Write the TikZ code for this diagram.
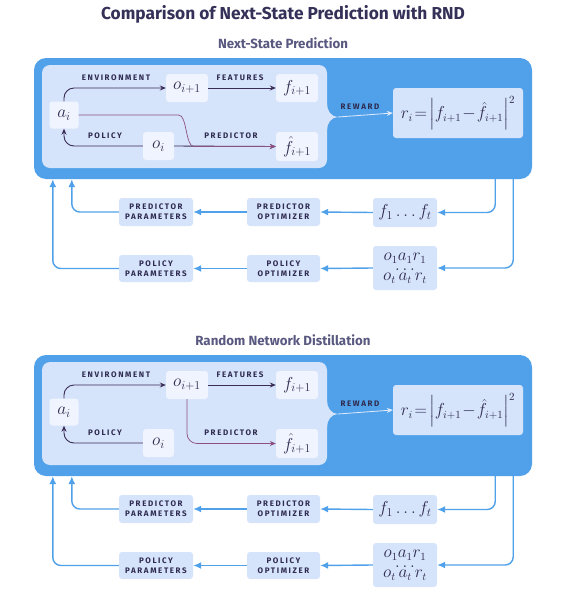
\documentclass[tikz,border=0pt]{standalone}
\usepackage[no-math]{fontspec}
\usepackage{amsmath}
\usepackage{tikz}
\usetikzlibrary{
    arrows.meta,
    calc
}
\newfontfamily\headfont{Fira Sans}
\newfontfamily\capfont[LetterSpace=20]{Fira Sans}
\definecolor{outerblue}{RGB}{80,161,233}
\definecolor{paleblue}{RGB}{213,227,251}
\definecolor{nodewhite}{RGB}{240,244,254}
\definecolor{inkpurple}{RGB}{58,44,86}
\definecolor{predpink}{RGB}{140,80,125}
\definecolor{navytext}{RGB}{47,43,80}
\definecolor{titlenavy}{RGB}{52,48,88}
\definecolor{subgray}{RGB}{88,88,128}
\definecolor{rewardline}{RGB}{225,234,252}
\newcommand{\tightlines}{\lineskiplimit=-20pt\relax}

\begin{document}
\begin{tikzpicture}[
    x=1pt, y=-1pt,
    panel/.style={rectangle, rounded corners=12pt, fill=outerblue, inner sep=0},
    core/.style={rectangle, rounded corners=8pt, fill=paleblue, inner sep=0},
    obsbox/.style={
        rectangle, rounded corners=3pt, fill=nodewhite, inner sep=0,
        minimum width=42pt, minimum height=28pt,
        text=navytext, font=\fontsize{17}{19}\selectfont
    },
    stagebox/.style={
        rectangle, rounded corners=3pt, fill=paleblue, inner sep=0,
        minimum width=74pt, minimum height=28pt, align=center,
        text=navytext, font=\capfont\bfseries\fontsize{8}{10}\selectfont
    },
    lbl/.style={text=navytext, inner sep=0, font=\capfont\bfseries\fontsize{8}{9}\selectfont},
    envarrow/.style={draw=inkpurple, line width=0.9pt, rounded corners=10pt, -{Stealth[length=6pt,width=5pt]}},
    predarrow/.style={draw=predpink, line width=0.7pt, rounded corners=10pt, -{Stealth[length=6pt,width=5pt]}},
    flowarrow/.style={draw=outerblue, line width=1.4pt, rounded corners=8pt, -{Latex[length=8pt,width=7pt]}}
]
\useasboundingbox (0,0) rectangle (565,592);

% Title
\node[font=\headfont\bfseries\fontsize{17.3}{20}\selectfont, text=titlenavy] (title) at (283,14) {Comparison of Next-State Prediction with RND};

% Both panels
\foreach \p/\dy/\ttl in {a/0/Next-State Prediction, b/297/Random Network Distillation} {
\begin{scope}[shift={(0,\dy)}]
    \node[font=\headfont\bfseries\fontsize{13.3}{15}\selectfont, text=subgray] (\p-sub) at (283,43) {\ttl};

    % Blue frame and inner region
    \node[panel, minimum width=498pt, minimum height=121pt] (\p-outer) at (283,118.5) {};
    \node[core, minimum width=285pt, minimum height=103pt] (\p-inner) at (184.5,116.5) {};
    \fill[paleblue] (327,104) to[out=-90,in=180] (338,117) to[out=180,in=90] (327,130) -- cycle;
    \coordinate (\p-rw) at (338,117);

    % Variables
    \node[obsbox, minimum width=29pt, minimum height=27pt] (\p-ai) at (64,115) {$a_i$};
    \node[obsbox] (\p-oip) at (187,88) {$o_{i+1}$};
    \node[obsbox] (\p-fnext) at (297,88) {$f_{i+1}$};
    \node[obsbox, minimum width=31pt] (\p-oi) at (158.5,146) {$o_i$};
    \node[obsbox, minimum height=29pt] (\p-fhat) at (297,146.5) {$\hat{f}_{i+1}$};
    \node[obsbox, fill=paleblue, minimum width=130pt, minimum height=50pt, font=\fontsize{16}{18}\selectfont] (\p-rbox) at (458,113)
        {$r_i\!=\!\left|f_{i+1}\!-\!\hat{f}_{i+1}\right|^2$};

    % Labels
    \node[lbl] (\p-envl) at (116,78) {ENVIRONMENT};
    \node[lbl] (\p-featl) at (240,78) {FEATURES};
    \node[lbl] (\p-poll) at (105,136) {POLICY};
    \node[lbl] (\p-predl) at (231,136) {PREDICTOR};
    \node[lbl] (\p-rewl) at (360,107) {REWARD};

    % Inner arrows
    \draw[envarrow] (\p-ai.north) |- (\p-oip.west);
    \draw[envarrow] (\p-oip.east) -- (\p-fnext.west);
    \draw[envarrow] (\p-oi.west) -| (\p-ai.south);
    \draw[draw=rewardline, line width=0.8pt, -{Stealth[length=6pt,width=5pt]}] (\p-rw) -- (\p-rbox.west);

    % Training loop
    \node[stagebox] (\p-ppar) at (156,212) {PREDICTOR\\PARAMETERS};
    \node[stagebox, minimum width=73pt] (\p-popt) at (283.5,212) {PREDICTOR\\OPTIMIZER};
    \node[obsbox, fill=paleblue, minimum width=64pt, minimum height=29pt] (\p-fseq) at (405,212.5) {$f_1\ldots f_t$};
    \node[stagebox, minimum height=27pt] (\p-polpar) at (156,268.5) {POLICY\\PARAMETERS};
    \node[stagebox, minimum width=73pt, minimum height=27pt] (\p-poopt) at (283.5,268.5) {POLICY\\OPTIMIZER};
    \node[obsbox, fill=paleblue, minimum width=64pt, minimum height=44pt, align=center,
          font=\fontsize{16}{10}\selectfont\tightlines] (\p-traj) at (405,268)
        {$o_1a_1r_1$\\$\ldots$\\$o_t\,a_t\,r_t$};

    \draw[flowarrow] ($(\p-outer.south east)+(-37,0)$) |- (\p-fseq.east);
    \draw[flowarrow] ($(\p-outer.south east)+(-19,0)$) |- (\p-traj.east);
    \draw[flowarrow] (\p-fseq.west) -- (\p-popt.east);
    \draw[flowarrow] (\p-popt.west) -- (\p-ppar.east);
    \draw[flowarrow] (\p-traj.west) -- (\p-poopt.east);
    \draw[flowarrow] (\p-poopt.west) -- (\p-polpar.east);
    \draw[flowarrow] (\p-ppar.west) -| ($(\p-outer.south west)+(38,0)$);
    \draw[flowarrow] (\p-polpar.west) -| ($(\p-outer.south west)+(19,0)$);
\end{scope}
}

% Predictor inputs: next-state prediction
\draw[envarrow] (a-oi.east) -- (a-fhat.west);
\draw[predarrow] (a-ai.east) -- ++(90,0) to[out=0,in=180] ($(a-fhat.west)+(-72,0)$) -- (a-fhat.west);

% Predictor inputs: random network distillation
\draw[predarrow] (b-oip.south) |- (b-fhat.west);

\end{tikzpicture}
\end{document}
